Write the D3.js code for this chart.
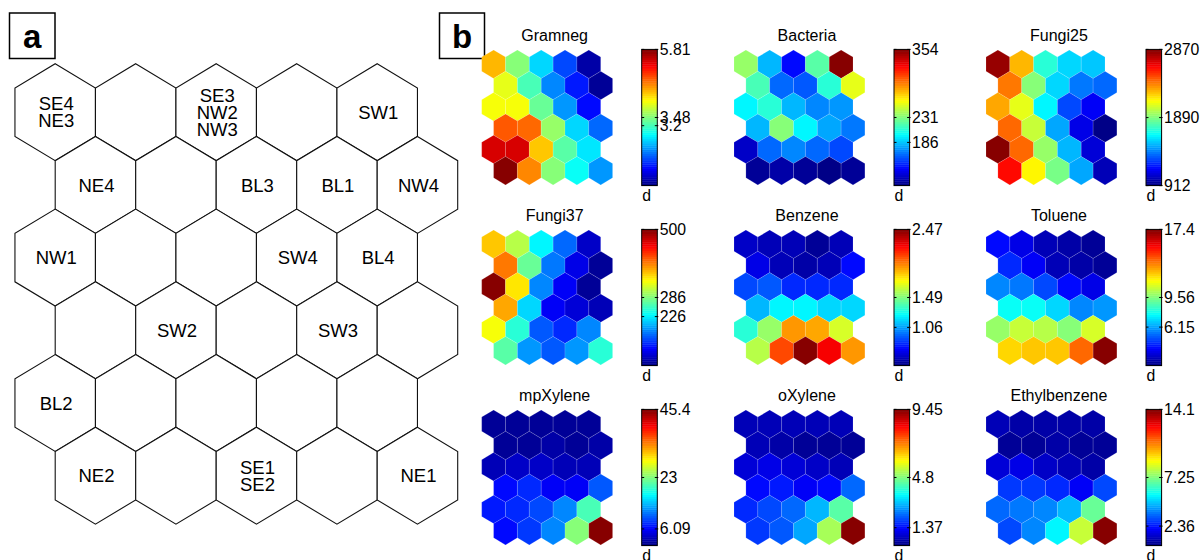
<!DOCTYPE html>
<html><head><meta charset="utf-8">
<script src="https://cdn.jsdelivr.net/npm/d3@7"></script>
<style>body{margin:0;background:#fff}svg{display:block}text{font-family:"Liberation Sans",Arial,Helvetica,sans-serif;fill:#000}</style>
</head><body>
<svg id="c" width="1200" height="560"></svg>
<script>
// ---------- DATA ----------
const labelsA = [
  ["SE4\nNE3", "", "SE3\nNW2\nNW3", "", "SW1"],
  ["NE4", "", "BL3", "BL1", "NW4"],
  ["NW1", "", "", "SW4", "BL4"],
  ["", "SW2", "", "SW3", ""],
  ["BL2", "", "", "", ""],
  ["NE2", "", "SE1\nSE2", "", "NE1"]
];
const mapNames = ["Gramneg","Bacteria","Fungi25","Fungi37","Benzene","Toluene","mpXylene","oXylene","Ethylbenzene"];
const cbMin = [1.15, 108, 912, 72, 0.51, 1.72, 0.6, 0.15, 0.4];
const cbMax = [5.81, 354, 2870, 500, 2.47, 17.4, 45.4, 9.45, 14.1];
const cbTicks = [
  [5.81, 3.48, 3.2], [354, 231, 186], [2870, 1890, 912],
  [500, 286, 226], [2.47, 1.49, 1.06], [17.4, 9.56, 6.15],
  [45.4, 23, 6.09], [9.45, 4.8, 1.37], [14.1, 7.25, 2.36]
];
const gramneg = [
  [4.41,3.53,2.69,2.08,1.34],
  [3.95,3.20,2.36,1.85,1.24],
  [4.04,4.06,3.34,2.41,1.80],
  [4.83,4.78,3.62,2.69,2.18],
  [5.44,5.39,4.32,3.29,2.78],
  [5.81,4.60,3.53,2.90,2.41]
];
const bacteria = [
  [238,182,140,221,354],
  [219,165,160,211,256],
  [197,211,184,170,174],
  [184,231,199,179,167],
  [125,165,172,162,155],
  [113,118,113,110,115]
];
const fungi25 = [
  [2831,2263,1734,1558,1539],
  [2400,1911,1558,1382,1343],
  [2302,2087,1646,1304,1147],
  [2420,2028,1480,1108,925],
  [2870,2420,1930,1519,1088],
  [2596,2136,1871,1480,1029]
];
const fungi37 = [
  [363,307,230,166,102],
  [393,273,175,115,81],
  [500,350,183,123,81],
  [376,218,119,111,98],
  [337,247,162,145,179],
  [269,188,162,188,252]
];
const benzene = [
  [0.65,0.63,0.61,0.57,0.61],
  [0.71,0.63,0.59,0.61,0.76],
  [0.90,0.92,0.84,0.82,0.84],
  [1.12,1.24,1.24,1.16,1.16],
  [1.33,1.55,1.94,1.90,1.67],
  [1.59,2.08,2.47,2.25,1.94]
];
const toluene = [
  [3.76,3.29,2.66,2.35,2.19],
  [4.39,3.60,2.66,2.35,2.19],
  [5.64,5.48,4.86,3.76,3.29],
  [7.83,7.60,6.89,5.80,5.95],
  [10.03,10.66,10.50,9.72,10.97],
  [12.07,12.38,12.38,13.95,17.4]
];
const mpXylene = [
  [1.9,1.9,1.9,1.9,1.9],
  [1.9,1.9,2.4,1.9,2.4],
  [2.8,3.7,3.7,3.3,2.8],
  [6.2,7.8,6.0,6.0,10.0],
  [6.9,8.2,9.6,11.8,20.3],
  [6.4,8.7,11.8,23.4,45.4]
];
const oXylene = [
  [0.71,0.62,0.62,0.62,0.62],
  [0.62,0.52,0.43,0.43,0.43],
  [0.99,1.08,0.99,0.80,0.71],
  [1.45,1.55,1.27,1.36,2.20],
  [1.73,1.92,2.29,2.94,4.43],
  [1.82,2.10,2.85,5.17,9.45]
];
const ethylbenzene = [
  [1.09,0.95,0.95,0.95,0.95],
  [0.81,0.81,0.95,0.81,0.81],
  [1.63,1.77,1.36,1.09,0.95],
  [2.87,2.87,2.59,2.11,3.00],
  [3.55,3.69,3.96,4.51,6.84],
  [3.00,3.96,5.47,8.21,14.1]
];
const mapValues = [gramneg, bacteria, fungi25, fungi37, benzene, toluene, mpXylene, oXylene, ethylbenzene];

// ---------- HELPERS ----------
const svg = d3.select("#c");
const FONT = '"Liberation Sans",Arial,Helvetica,sans-serif';
function clamp01(v){ return Math.max(0, Math.min(1, v)); }
function jet(t){
  const k = Math.min(63, Math.max(0, Math.floor(t * 64)));
  const u = (k + 0.5) / 64;
  const r = clamp01(1.5 - Math.abs(4*u - 3));
  const g = clamp01(1.5 - Math.abs(4*u - 2));
  const b = clamp01(1.5 - Math.abs(4*u - 1));
  return d3.rgb(r*255, g*255, b*255).toString();
}
const lineGen = d3.line();
function hexPath(cx, cy, hw, ry){
  const pts = [[cx, cy-ry],[cx+hw, cy-ry/2],[cx+hw, cy+ry/2],[cx, cy+ry],[cx-hw, cy+ry/2],[cx-hw, cy-ry/2]];
  return lineGen(pts) + "Z";
}

// ---------- PANEL LABEL BOXES ----------
function panelLabel(x, y, w, h, txt){
  svg.append("rect").attr("x", x).attr("y", y).attr("width", w).attr("height", h)
    .attr("fill", "#fff").attr("stroke", "#000").attr("stroke-width", 1.5);
  svg.append("text").attr("x", x + w/2).attr("y", y + h/2 + 1)
    .attr("text-anchor", "middle").attr("dominant-baseline", "central")
    .style("font-size", "33px").style("font-weight", "bold").text(txt);
}
panelLabel(9.5, 13, 45.5, 45.5, "a");
panelLabel(439.5, 13, 45, 45.5, "b");

// ---------- PANEL A ----------
const xA = d3.scaleLinear().domain([0, 1]).range([55.2, 135.7]);
const yA = d3.scaleLinear().domain([0, 1]).range([112.2, 184.9]);
const hwA = (xA(1) - xA(0)) / 2;
const ryA = (yA(1) - yA(0)) / 1.5;
const gA = svg.append("g");
labelsA.forEach((row, r) => {
  row.forEach((lab, c) => {
    const cx = xA(c + (r % 2 ? 0.5 : 0));
    const cy = yA(r);
    gA.append("path").attr("d", hexPath(cx, cy, hwA, ryA))
      .attr("fill", "#fff").attr("stroke", "#111").attr("stroke-width", 1.1);
    if (lab) {
      const lines = lab.split("\n");
      const lh = 16.8;
      const t = gA.append("text").attr("text-anchor", "middle").style("font-size", "18.5px");
      lines.forEach((ln, i) => {
        t.append("tspan").attr("x", cx + 1).attr("y", cy + (i - (lines.length-1)/2) * lh + 6.6).text(ln);
      });
    }
  });
});

// ---------- PANEL B ----------
const colLefts = [481.7, 734, 986];
const rowTops = [50, 230, 410];
const hexW = 23.8, hexRy = 14.2;
mapNames.forEach((name, i) => {
  const left = colLefts[i % 3], top = rowTops[Math.floor(i / 3)];
  const vals = mapValues[i];
  const vmin = cbMin[i], vmax = cbMax[i];
  const color = v => jet((v - vmin) / (vmax - vmin));
  const xs = d3.scaleLinear().domain([0, 1]).range([left + hexW/2, left + hexW*1.5]);
  const ys = d3.scaleLinear().domain([0, 1]).range([top + hexRy, top + hexRy*2.5]);
  const g = svg.append("g");
  vals.forEach((row, r) => {
    row.forEach((v, c) => {
      const cx = xs(c + (r % 2 ? 0.5 : 0)), cy = ys(r);
      g.append("path").attr("d", hexPath(cx, cy, hexW/2, hexRy))
        .attr("fill", color(v))
        .attr("stroke", "#fff").attr("stroke-opacity", 0.22).attr("stroke-width", 0.6);
    });
  });
  // title
  g.append("text").attr("x", left + hexW*2.75 + 7.5).attr("y", top - 9)
    .attr("text-anchor", "middle").style("font-size", "16px").text(name);
  // colorbar
  const cbX = left + 160, cbW = 15.6;
  const cbTop = top - 0.6, cbBot = top + 135.6;
  const yc = d3.scaleLinear().domain([vmin, vmax]).range([cbBot, cbTop]);
  const levels = d3.range(64);
  g.selectAll(null).data(levels).enter().append("rect")
    .attr("x", cbX)
    .attr("y", k => yc(vmin + (k+1)/64*(vmax-vmin)))
    .attr("width", cbW)
    .attr("height", k => yc(vmin + k/64*(vmax-vmin)) - yc(vmin + (k+1)/64*(vmax-vmin)) + 0.4)
    .attr("fill", k => jet((k + 0.5)/64));
  g.append("rect").attr("x", cbX).attr("y", cbTop).attr("width", cbW).attr("height", cbBot - cbTop)
    .attr("fill", "none").attr("stroke", "#000").attr("stroke-width", 1);
  const axis = d3.axisRight(yc).tickValues(cbTicks[i]).tickSize(0).tickPadding(2.5)
    .tickFormat(d => String(d));
  const ax = g.append("g").attr("transform", `translate(${cbX + cbW},0)`).call(axis);
  ax.select(".domain").remove();
  ax.selectAll("text").style("font-size", "15.8px").style("font-family", FONT).attr("fill", "#000");
  cbTicks[i].forEach(tv => {
    const ty = yc(tv);
    g.append("line").attr("x1", cbX).attr("x2", cbX + 2.5).attr("y1", ty).attr("y2", ty).attr("stroke", "#000").attr("stroke-width", 1);
    g.append("line").attr("x1", cbX + cbW - 2.5).attr("x2", cbX + cbW + 1).attr("y1", ty).attr("y2", ty).attr("stroke", "#000").attr("stroke-width", 1);
  });
  g.append("text").attr("x", cbX + 0.5).attr("y", cbBot + 15.5).style("font-size", "15.8px").text("d");
});
</script>
</body></html>
